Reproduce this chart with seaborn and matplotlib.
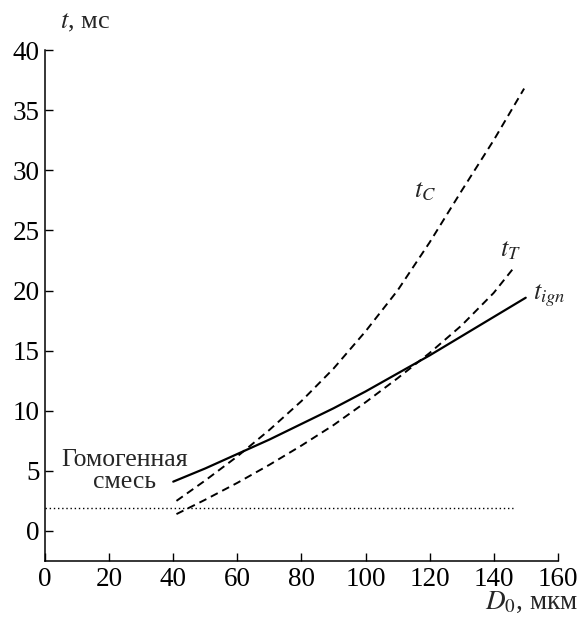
import matplotlib
matplotlib.use("Agg")
import matplotlib.pyplot as plt
import seaborn as sns
import pandas as pd
import numpy as np

# Data
d_ign = [40, 50, 60, 70, 80, 90, 100, 110, 120, 130, 140, 150]
t_ign = [4.1, 5.2, 6.4, 7.6, 8.9, 10.2, 11.6, 13.1, 14.6, 16.2, 17.8, 19.4]

d_T = [41, 50, 60, 70, 80, 90, 100, 110, 120, 130, 140, 146]
t_T = [1.4, 2.6, 4.0, 5.5, 7.1, 8.8, 10.7, 12.7, 14.8, 17.1, 19.8, 21.8]

d_C = [41, 50, 60, 70, 80, 90, 100, 110, 120, 130, 140, 149.5]
t_C = [2.5, 4.2, 6.2, 8.4, 10.8, 13.5, 16.6, 20.0, 24.0, 28.3, 32.5, 36.8]

d_hom = [0, 146]
t_hom = [1.9, 1.9]

x_ticks = [0, 20, 40, 60, 80, 100, 120, 140, 160]
y_ticks = [0, 5, 10, 15, 20, 25, 30, 35, 40]

sns.set_style("ticks")
plt.rcParams["font.family"] = ["Liberation Serif", "DejaVu Serif"]
plt.rcParams["mathtext.fontset"] = "stix"

df = pd.concat([
    pd.DataFrame({"D": d_ign, "t": t_ign, "s": "ign"}),
    pd.DataFrame({"D": d_T, "t": t_T, "s": "T"}),
    pd.DataFrame({"D": d_C, "t": t_C, "s": "C"}),
    pd.DataFrame({"D": d_hom, "t": t_hom, "s": "hom"}),
])

fig = plt.figure(figsize=(5.78, 6.17), dpi=100)
ax = fig.add_axes([0.078, 0.0908, 0.887, 0.828])

sns.lineplot(data=df[df.s == "ign"], x="D", y="t", ax=ax, color="black", lw=1.6, sort=False)
sns.lineplot(data=df[df.s == "T"], x="D", y="t", ax=ax, color="black", lw=1.4,
             sort=False).lines[-1].set_dashes([4, 2.6])
sns.lineplot(data=df[df.s == "C"], x="D", y="t", ax=ax, color="black", lw=1.4,
             sort=False).lines[-1].set_dashes([4, 2.6])
sns.lineplot(data=df[df.s == "hom"], x="D", y="t", ax=ax, color="black", lw=1.0,
             sort=False).lines[-1].set_dashes([1, 2])

ax.set_xlim(0, 160)
ax.set_ylim(-2.5, 40)
ax.set_xticks(x_ticks)
ax.set_yticks(y_ticks)
ax.tick_params(direction="in", length=6, width=1, labelsize=19.5, colors="black", pad=4)
for s in ["top", "right"]:
    ax.spines[s].set_visible(False)
for s in ["left", "bottom"]:
    ax.spines[s].set_linewidth(1.1)
    ax.spines[s].set_color("black")
ax.set_xlabel("")
ax.set_ylabel("")

ax.text(118.7, 28.2, r"$t_C$", fontsize=19, ha="center", va="center")
ax.text(145.3, 23.3, r"$t_T$", fontsize=19, ha="center", va="center")
ax.text(152.3, 19.6, r"$t_{ign}$", fontsize=19, ha="left", va="center")
ax.text(24.7, 5.0, "Гомогенная\nсмесь", fontsize=18.5, ha="center", va="center",
        linespacing=1.0)

fig.text(0.104, 0.962, r"$t$, мс", fontsize=19, ha="left", va="center")
fig.text(0.999, 0.013, r"$D_0$, мкм", fontsize=19.5, ha="right", va="baseline")

fig.savefig("out.png", dpi=100)
